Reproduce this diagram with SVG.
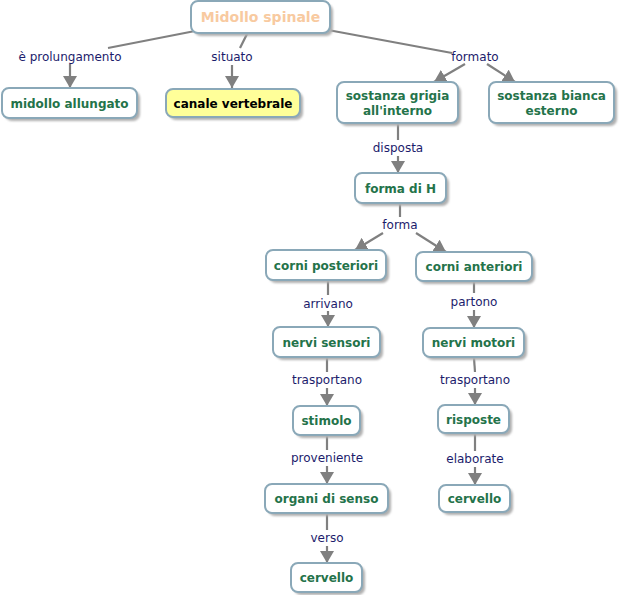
<svg xmlns="http://www.w3.org/2000/svg" width="621" height="595" viewBox="0 0 621 595">
<defs>
<marker id="ah" viewBox="0 0 12 14" refX="12" refY="7" markerWidth="12" markerHeight="14" markerUnits="userSpaceOnUse" orient="auto">
<path d="M0,0 L12,7 L0,14 Z" fill="#808080"/>
</marker>
<filter id="sh" x="-10%" y="-20%" width="130%" height="160%">
<feGaussianBlur stdDeviation="1.2"/>
</filter>
</defs>
<style>
.n{fill:#ffffff;stroke:#8aa8b8;stroke-width:2}
.y{fill:#ffff99}
.s{fill:#b0b0b0;filter:url(#sh)}
.t{font-family:"DejaVu Sans",Verdana,sans-serif;font-size:12px;font-weight:bold;fill:#24734a;text-anchor:middle}
.tk{fill:#000000}
.tt{font-size:14px;fill:#f8caa0}
.l{font-family:"DejaVu Sans",Verdana,sans-serif;font-size:12px;fill:#1c1c6c;text-anchor:middle}
.c{stroke:#808080;stroke-width:2.2;fill:none}
.a{marker-end:url(#ah)}
</style>
<rect width="621" height="595" fill="#ffffff"/>
<g id="connectors">
<line class="c" x1="195" y1="31" x2="108" y2="48"/>
<line class="c a" x1="70" y1="64" x2="70" y2="88"/>
<line class="c" x1="248" y1="32" x2="240" y2="48"/>
<line class="c a" x1="232" y1="65" x2="232" y2="88"/>
<line class="c" x1="328" y1="30" x2="452" y2="53"/>
<line class="c a" x1="465" y1="64" x2="434" y2="82"/>
<line class="c a" x1="487" y1="64" x2="515" y2="82"/>
<line class="c" x1="398" y1="124" x2="398" y2="140"/>
<line class="c a" x1="398" y1="156" x2="398" y2="173"/>
<line class="c" x1="400" y1="204" x2="400" y2="217"/>
<line class="c a" x1="383" y1="233" x2="355" y2="250"/>
<line class="c a" x1="416" y1="233" x2="446" y2="252"/>
<line class="c" x1="328" y1="281" x2="328" y2="295"/>
<line class="c a" x1="328" y1="311" x2="328" y2="327"/>
<line class="c" x1="474" y1="282" x2="474" y2="293"/>
<line class="c a" x1="474" y1="310" x2="474" y2="328"/>
<line class="c" x1="327" y1="358" x2="327" y2="372"/>
<line class="c a" x1="327" y1="388" x2="327" y2="406"/>
<line class="c" x1="474" y1="358" x2="475" y2="372"/>
<line class="c a" x1="475" y1="388" x2="475" y2="405"/>
<line class="c" x1="327" y1="436" x2="327" y2="450"/>
<line class="c a" x1="327" y1="466" x2="327" y2="484"/>
<line class="c" x1="475" y1="434" x2="475" y2="451"/>
<line class="c a" x1="475" y1="467" x2="475" y2="485"/>
<line class="c" x1="327" y1="514" x2="327" y2="530"/>
<line class="c a" x1="327" y1="546" x2="327" y2="563"/>
<text class="l" x="70" y="61">è prolungamento</text>
<text class="l" x="232" y="61">situato</text>
<text class="l" x="475" y="61">formato</text>
<text class="l" x="398" y="152">disposta</text>
<text class="l" x="400" y="229">forma</text>
<text class="l" x="328" y="308">arrivano</text>
<text class="l" x="474" y="306">partono</text>
<text class="l" x="327" y="384">trasportano</text>
<text class="l" x="475" y="384">trasportano</text>
<text class="l" x="327" y="462">proveniente</text>
<text class="l" x="475" y="463">elaborate</text>
<text class="l" x="327" y="542">verso</text>
</g>
<g id="n-midollo-spinale">
<rect class="s" x="194" y="4" width="139" height="32" rx="7"/>
<rect class="n" x="191" y="1" width="139" height="32" rx="7"/>
<text class="t tt" x="260.5" y="22">Midollo spinale</text>
</g>
<g id="n-midollo-allungato">
<rect class="s" x="5" y="91" width="135" height="30" rx="7"/>
<rect class="n" x="2" y="88" width="135" height="30" rx="7"/>
<text class="t" x="69.5" y="107.5">midollo allungato</text>
</g>
<g id="n-canale-vertebrale">
<rect class="s" x="169" y="92" width="134" height="28" rx="7"/>
<rect class="n y" x="166" y="89" width="134" height="28" rx="7"/>
<text class="t tk" x="233" y="107.5">canale vertebrale</text>
</g>
<g id="n-sostanza-grigia">
<rect class="s" x="340" y="85" width="121" height="41" rx="7"/>
<rect class="n" x="337" y="82" width="121" height="41" rx="7"/>
<text class="t" x="397.5" y="100">sostanza grigia</text>
<text class="t" x="397.5" y="115">all'interno</text>
</g>
<g id="n-sostanza-bianca">
<rect class="s" x="492" y="85" width="125" height="41" rx="7"/>
<rect class="n" x="489" y="82" width="125" height="41" rx="7"/>
<text class="t" x="551.5" y="100">sostanza bianca</text>
<text class="t" x="551.5" y="115">esterno</text>
</g>
<g id="n-forma-di-h">
<rect class="s" x="358" y="176" width="91" height="30" rx="7"/>
<rect class="n" x="355" y="173" width="91" height="30" rx="7"/>
<text class="t" x="400.5" y="192.5">forma di H</text>
</g>
<g id="n-corni-posteriori">
<rect class="s" x="269" y="253" width="120" height="30" rx="7"/>
<rect class="n" x="266" y="250" width="120" height="30" rx="7"/>
<text class="t" x="326" y="269.5">corni posteriori</text>
</g>
<g id="n-corni-anteriori">
<rect class="s" x="419" y="255" width="116" height="29" rx="7"/>
<rect class="n" x="416" y="252" width="116" height="29" rx="7"/>
<text class="t" x="474" y="271">corni anteriori</text>
</g>
<g id="n-nervi-sensori">
<rect class="s" x="276" y="330" width="107" height="30" rx="7"/>
<rect class="n" x="273" y="327" width="107" height="30" rx="7"/>
<text class="t" x="326.5" y="346.5">nervi sensori</text>
</g>
<g id="n-nervi-motori">
<rect class="s" x="426" y="331" width="101" height="29" rx="7"/>
<rect class="n" x="423" y="328" width="101" height="29" rx="7"/>
<text class="t" x="473.5" y="347">nervi motori</text>
</g>
<g id="n-stimolo">
<rect class="s" x="296" y="409" width="67" height="29" rx="7"/>
<rect class="n" x="293" y="406" width="67" height="29" rx="7"/>
<text class="t" x="326.5" y="425">stimolo</text>
</g>
<g id="n-risposte">
<rect class="s" x="441" y="408" width="71" height="28" rx="7"/>
<rect class="n" x="438" y="405" width="71" height="28" rx="7"/>
<text class="t" x="473.5" y="423.5">risposte</text>
</g>
<g id="n-organi-di-senso">
<rect class="s" x="268" y="487" width="123" height="29" rx="7"/>
<rect class="n" x="265" y="484" width="123" height="29" rx="7"/>
<text class="t" x="326.5" y="503">organi di senso</text>
</g>
<g id="n-cervello-destra">
<rect class="s" x="442" y="488" width="71" height="27" rx="7"/>
<rect class="n" x="439" y="485" width="71" height="27" rx="7"/>
<text class="t" x="474.5" y="503">cervello</text>
</g>
<g id="n-cervello-sinistra">
<rect class="s" x="294" y="566" width="71" height="29" rx="7"/>
<rect class="n" x="291" y="563" width="71" height="29" rx="7"/>
<text class="t" x="326.5" y="582">cervello</text>
</g>
</svg>
